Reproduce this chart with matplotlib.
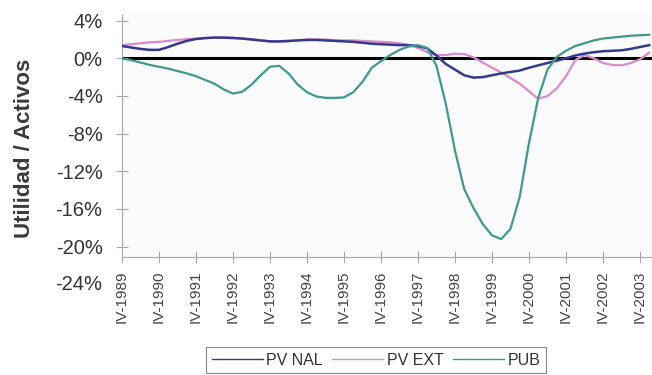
import numpy as np
import matplotlib
matplotlib.use("Agg")
import matplotlib.pyplot as plt

plt.rcParams['font.family'] = ['Liberation Sans', 'DejaVu Sans']

# Rentabilidad trimestral (utilidad / activos, %), desde IV-1989
pv_nal = [1.3, 1.15, 1.0, 0.9, 0.9, 1.2, 1.55, 1.85, 2.05, 2.15,
          2.2, 2.2, 2.15, 2.1, 2.0, 1.9, 1.8, 1.8, 1.85, 1.9,
          1.95, 1.95, 1.9, 1.85, 1.8, 1.75, 1.65, 1.55, 1.5, 1.45,
          1.4, 1.4, 1.3, 1.05, 0.3, -0.6, -1.2, -1.8, -2.05, -2.0,
          -1.8, -1.6, -1.45, -1.3, -1.0, -0.75, -0.5, -0.25, 0.0, 0.3,
          0.5, 0.65, 0.75, 0.8, 0.85, 1.0, 1.2, 1.4]
pv_ext = [1.4, 1.5, 1.6, 1.7, 1.75, 1.85, 1.95, 2.05, 2.1, 2.15,
          2.2, 2.2, 2.2, 2.1, 2.0, 1.9, 1.8, 1.75, 1.8, 1.9,
          2.0, 2.0, 2.0, 1.9, 1.9, 1.9, 1.85, 1.8, 1.75, 1.7,
          1.6, 1.4, 1.1, 0.65, 0.35, 0.35, 0.5, 0.45, 0.1, -0.45,
          -1.0, -1.5, -2.1, -2.7, -3.5, -4.3, -4.0, -3.2, -1.9, -0.2,
          0.35, 0.0, -0.5, -0.7, -0.75, -0.5, -0.1, 0.6]
pub = [0.0, -0.2, -0.45, -0.7, -0.9, -1.1, -1.35, -1.6, -1.9, -2.3,
       -2.7, -3.3, -3.75, -3.55, -2.8, -1.8, -0.9, -0.8, -1.6, -2.8,
       -3.6, -4.05, -4.2, -4.2, -4.15, -3.6, -2.5, -1.0, -0.3, 0.35,
       0.9, 1.25, 1.4, 1.1, -0.8, -4.8, -9.8, -13.9, -15.9, -17.6,
       -18.8, -19.2, -18.1, -14.7, -9.0, -4.2, -1.2, 0.15, 0.8, 1.3,
       1.6, 1.9, 2.1, 2.2, 2.3, 2.4, 2.45, 2.5]

tick_labels = ['IV-1989', 'IV-1990', 'IV-1991', 'IV-1992', 'IV-1993',
               'IV-1994', 'IV-1995', 'IV-1996', 'IV-1997', 'IV-1998',
               'IV-1999', 'IV-2000', 'IV-2001', 'IV-2002', 'IV-2003']
y_ticks = [4, 0, -4, -8, -12, -16, -20]

fig = plt.figure(figsize=(6.52, 3.75), dpi=100)
ax = fig.add_axes([122 / 652, 1 - 257 / 375, 1 - 122 / 652, 242 / 375])
ax.set_facecolor('#fbfbfb')

x = np.arange(len(pub))
ax.axhline(0, color='black', lw=2.2, zorder=1)
l1, = ax.plot(x, pv_nal, color='#333a8e', lw=1.8, zorder=3)
l2, = ax.plot(x, pv_ext, color='#d98ccb', lw=1.6, zorder=2)
l3, = ax.plot(x, pub, color='#3e9a8e', lw=1.6, zorder=3)

ax.set_xlim(0, 57.3)
ax.set_ylim(-21.1, 4.6)

for s in ['top', 'right']:
    ax.spines[s].set_visible(False)
for s in ['left', 'bottom']:
    ax.spines[s].set_color('#a8a8a8')
    ax.spines[s].set_linewidth(0.8)

ax.set_yticks(y_ticks)
ax.set_yticklabels([f'{v}%' for v in y_ticks])
ax.set_xticks(np.arange(0, len(tick_labels) * 4, 4))
ax.set_xticklabels(tick_labels, rotation=90)
ax.tick_params(axis='y', direction='inout', length=8, color='#a8a8a8',
               labelsize=14.5, labelcolor='#333333', pad=10)
ax.tick_params(axis='x', direction='inout', length=8, color='#a8a8a8',
               labelsize=11, labelcolor='#444444', pad=6)

# etiqueta extra bajo el eje
ax.text(-0.037, -24, '-24%', transform=ax.get_yaxis_transform(),
        ha='right', va='center', fontsize=14.5, color='#333333', clip_on=False)

fig.text(25 / 652, 1 - 148 / 375, 'Utilidad / Activos', rotation=90,
         ha='center', va='center', fontsize=16, fontweight='bold', color='#3a3a3a')

leg = fig.legend([l1, l2, l3], ['PV NAL', 'PV EXT', 'PUB'], loc='upper center',
                 bbox_to_anchor=(376 / 652, 1 - 347 / 375), ncol=3,
                 fontsize=11.5, handlelength=3.2, handletextpad=0.2,
                 columnspacing=0.6, borderpad=0.35, borderaxespad=0,
                 fancybox=False, edgecolor='#888888', framealpha=1)
leg.get_frame().set_linewidth(0.8)
for line in leg.get_lines():
    line.set_linewidth(1.0)
for t in leg.get_texts():
    t.set_color('#333333')

fig.savefig('out.png', dpi=100)
